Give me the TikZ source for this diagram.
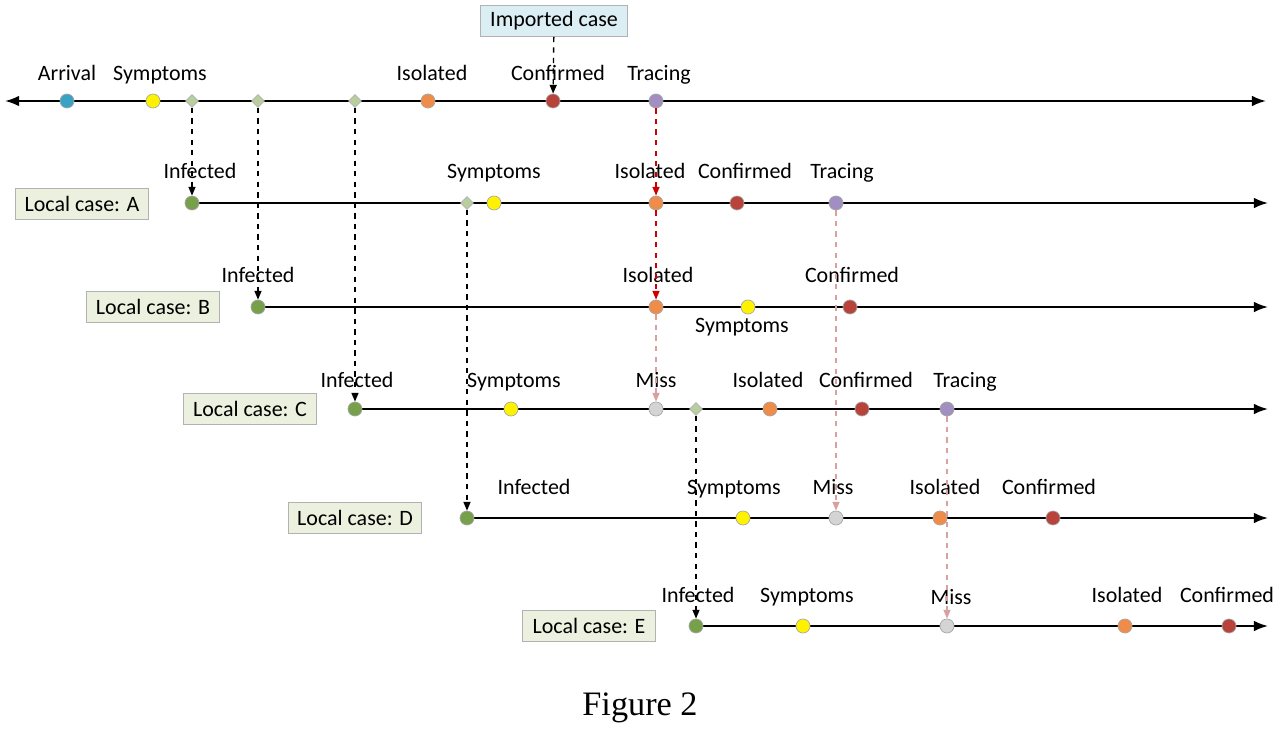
\documentclass[tikz,border=0pt]{standalone}
\usepackage{fontspec}
\setmainfont{Carlito}
\newfontfamily\capfont{Liberation Serif}
\usetikzlibrary{arrows.meta,shapes.geometric}
\definecolor{cInf}{HTML}{77A04A}
\definecolor{cSym}{HTML}{FFF200}
\definecolor{cIso}{HTML}{F08C4A}
\definecolor{cCon}{HTML}{B8433A}
\definecolor{cTra}{HTML}{A08FC0}
\definecolor{cMis}{HTML}{D4D4D4}
\definecolor{cArr}{HTML}{3AA3C4}
\definecolor{cDia}{HTML}{B9CE9E}
\definecolor{cBox}{HTML}{EBF1DE}
\definecolor{cImp}{HTML}{DBEEF4}
\definecolor{cPink}{HTML}{D9A0A0}
\tikzset{
  ev/.style={circle,draw=gray!70,fill=#1,inner sep=0pt,minimum size=8pt},
  dia/.style={diamond,draw=gray!60,fill=cDia,inner sep=0pt,minimum size=7.5pt},
  lbl/.style={font=\fontsize{12.5}{14}\selectfont,inner sep=1pt,text height=8.5pt,text depth=2.5pt},
  casebox/.style={draw=gray!60,fill=cBox,font=\fontsize{12.5}{14}\selectfont,minimum width=2.65cm,minimum height=0.62cm},
  timeline/.style={line width=1.1pt,-{Latex[length=8pt,width=6pt]}},
  link/.style={dashed,thick,-{Triangle[length=5pt,width=4pt]}},
  redlink/.style={link,red!80!black},
  pinklink/.style={link,cPink}
}
\begin{document}
\begin{tikzpicture}[x=0.02cm,y=-0.02cm]
  \useasboundingbox (0,0) rectangle (1280,730);
  % time lines
  \draw[line width=1.1pt,{Latex[length=8pt,width=6pt]}-{Latex[length=8pt,width=6pt]}] (5,101) -- (1266,101);
  \draw[timeline] (192,203) -- (1268,203);
  \draw[timeline] (258,307) -- (1268,307);
  \draw[timeline] (355,409) -- (1268,409);
  \draw[timeline] (467,518) -- (1268,518);
  \draw[timeline] (696,626) -- (1268,626);
  % imported case
  \node[draw=gray!60,fill=cImp,lbl,minimum width=2.95cm,minimum height=0.62cm] (imp) at (554,21) {Imported case};
  \node[ev=cArr] (i0) at (67,101) {};
  \node[ev=cSym] (i1) at (153,101) {};
  \node[dia] (d1) at (192,101) {};
  \node[dia] (d2) at (258,101) {};
  \node[dia] (d3) at (355,101) {};
  \node[ev=cIso] (i2) at (428,101) {};
  \node[ev=cCon] (i3) at (553,101) {};
  \node[ev=cTra] (i4) at (656,101) {};
  \node[lbl] at (67,75) {Arrival};
  \node[lbl] at (160,75) {Symptoms};
  \node[lbl] at (432,75) {Isolated};
  \node[lbl] at (558,75) {Confirmed};
  \node[lbl] at (659,75) {Tracing};
  % local case A
  \node[casebox] at (82,204) {Local case: A};
  \node[ev=cInf] (a0) at (192,203) {};
  \node[dia] (da) at (467,203) {};
  \node[ev=cSym] (a1) at (494,203) {};
  \node[ev=cIso] (a2) at (656,203) {};
  \node[ev=cCon] (a3) at (737,203) {};
  \node[ev=cTra] (a4) at (836,203) {};
  \node[lbl] at (200,173) {Infected};
  \node[lbl] at (494,173) {Symptoms};
  \node[lbl] at (650,173) {Isolated};
  \node[lbl] at (745,173) {Confirmed};
  \node[lbl] at (842,173) {Tracing};
  % local case B
  \node[casebox] at (153,307) {Local case: B};
  \node[ev=cInf] (b0) at (258,307) {};
  \node[ev=cIso] (b1) at (656,307) {};
  \node[ev=cSym] (b2) at (748,307) {};
  \node[ev=cCon] (b3) at (850,307) {};
  \node[lbl] at (258,277) {Infected};
  \node[lbl] at (658,277) {Isolated};
  \node[lbl] at (742,327) {Symptoms};
  \node[lbl] at (852,277) {Confirmed};
  % local case C
  \node[casebox] at (250,409) {Local case: C};
  \node[ev=cInf] (c0) at (355,409) {};
  \node[ev=cSym] (c1) at (511,409) {};
  \node[ev=cMis] (c2) at (656,409) {};
  \node[dia] (dc) at (696,409) {};
  \node[ev=cIso] (c3) at (770,409) {};
  \node[ev=cCon] (c4) at (862,409) {};
  \node[ev=cTra] (c5) at (947,409) {};
  \node[lbl] at (357,382) {Infected};
  \node[lbl] at (514,382) {Symptoms};
  \node[lbl] at (656,382) {Miss};
  \node[lbl] at (768,382) {Isolated};
  \node[lbl] at (866,382) {Confirmed};
  \node[lbl] at (965,382) {Tracing};
  % local case D
  \node[casebox] at (355,518) {Local case: D};
  \node[ev=cInf] (e0) at (467,518) {};
  \node[ev=cSym] (e1) at (743,518) {};
  \node[ev=cMis] (e2) at (836,518) {};
  \node[ev=cIso] (e3) at (940,518) {};
  \node[ev=cCon] (e4) at (1053,518) {};
  \node[lbl] at (534,489) {Infected};
  \node[lbl] at (734,489) {Symptoms};
  \node[lbl] at (833,489) {Miss};
  \node[lbl] at (945,489) {Isolated};
  \node[lbl] at (1049,489) {Confirmed};
  % local case E
  \node[casebox] at (589,626) {Local case: E};
  \node[ev=cInf] (f0) at (696,626) {};
  \node[ev=cSym] (f1) at (803,626) {};
  \node[ev=cMis] (f2) at (947,626) {};
  \node[ev=cIso] (f3) at (1125,626) {};
  \node[ev=cCon] (f4) at (1229,626) {};
  \node[lbl] at (698,597) {Infected};
  \node[lbl] at (807,597) {Symptoms};
  \node[lbl] at (951,599) {Miss};
  \node[lbl] at (1127,597) {Isolated};
  \node[lbl] at (1227,597) {Confirmed};
  % links
  \draw[link] (imp) -- (i3);
  \draw[link] (d1) -- (a0);
  \draw[link] (d2) -- (b0);
  \draw[link] (d3) -- (c0);
  \draw[link] (da) -- (e0);
  \draw[link] (dc) -- (f0);
  \draw[redlink] (i4) -- (a2);
  \draw[redlink] (a2) -- (b1);
  \draw[pinklink] (b1) -- (c2);
  \draw[pinklink] (a4) -- (e2);
  \draw[pinklink] (c5) -- (f2);
  \node[font=\capfont\fontsize{19.5}{22}\selectfont] (cap) at (640,708) {Figure 2};
\end{tikzpicture}
\end{document}
